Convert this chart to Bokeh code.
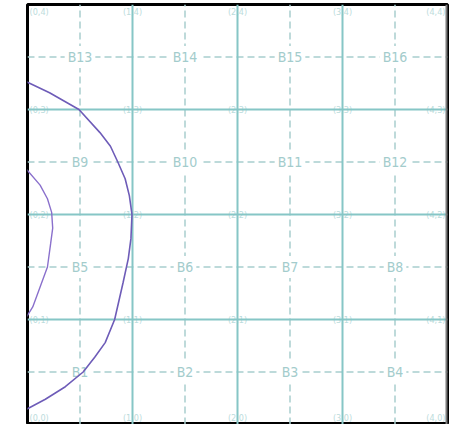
from bokeh.plotting import figure
from bokeh.models import Range1d, Span
from bokeh.core.properties import value
from bokeh.embed import file_html
from bokeh.resources import INLINE

# grid data
solid_pos = [1, 2, 3]
dashed_pos = [0.5, 1.5, 2.5, 3.5]
cell_labels = ["B1", "B2", "B3", "B4", "B5", "B6", "B7", "B8",
               "B9", "B10", "B11", "B12", "B13", "B14", "B15", "B16"]
cell_x = [0.5, 1.5, 2.5, 3.5] * 4
cell_y = [0.5] * 4 + [1.5] * 4 + [2.5] * 4 + [3.5] * 4

node_x = [0, 1, 2, 3, 4] * 5
node_y = [0] * 5 + [1] * 5 + [2] * 5 + [3] * 5 + [4] * 5
node_labels = ["(%d,%d)" % (a, b) for a, b in zip(node_x, node_y)]

# contour lines
outer_x = [-0.02, 0.0, 0.21, 0.49, 0.69, 0.79, 0.86, 0.93, 0.97, 0.995, 0.985, 0.96, 0.91,
           0.83, 0.74, 0.64, 0.53, 0.36, 0.17, 0.0, -0.02]
outer_y = [3.27, 3.26, 3.16, 3.0, 2.78, 2.65, 2.5, 2.34, 2.18, 2.0, 1.77, 1.58, 1.35,
           1.0, 0.78, 0.64, 0.5, 0.36, 0.24, 0.15, 0.14]
inner_x = [-0.02, 0.0, 0.12, 0.19, 0.23, 0.24, 0.22, 0.19, 0.12, 0.05, 0.0, -0.02]
inner_y = [2.44, 2.42, 2.28, 2.15, 2.02, 1.87, 1.72, 1.5, 1.31, 1.12, 1.04, 1.01]

p = figure(width=453, height=424, x_range=Range1d(0, 4), y_range=Range1d(0, 4),
           output_backend="svg", toolbar_location=None,
           x_axis_location=None, y_axis_location=None,
           min_border_left=27, min_border_right=6, min_border_top=4, min_border_bottom=0)
p.grid.visible = False
p.outline_line_color = "black"
p.outline_line_width = 3
p.background_fill_color = "white"

# node labels (kept inside the frame at the edges)
node_align = ["left" if a == 0 else ("right" if a == 4 else "center") for a in node_x]
node_base = ["bottom" if b == 0 else ("top" if b == 4 else "middle") for b in node_y]
p.text(x=node_x, y=node_y, text=node_labels, text_font=value("DejaVu Sans Condensed"),
       text_font_size="9px", text_color="#bcdcdc", text_align=node_align,
       text_baseline=node_base, x_offset=[2 if a == 0 else (-2 if a == 4 else 0) for a in node_x],
       y_offset=[-2 if b == 0 else (2 if b == 4 else 0) for b in node_y])

# dashed center lines
n = len(dashed_pos)
p.segment(x0=dashed_pos, y0=[0] * n, x1=dashed_pos, y1=[4] * n,
          line_color="#a8cece", line_width=1.5, line_dash="7 4")
p.segment(x0=[0] * n, y0=dashed_pos, x1=[4] * n, y1=dashed_pos,
          line_color="#a8cece", line_width=1.5, line_dash="7 4")

# solid boundaries
m = len(solid_pos)
p.segment(x0=solid_pos, y0=[0] * m, x1=solid_pos, y1=[4] * m,
          line_color="#86c6c6", line_width=2)
p.segment(x0=[0] * m, y0=solid_pos, x1=[4] * m, y1=solid_pos,
          line_color="#86c6c6", line_width=2)

# cell labels
p.text(x=cell_x, y=cell_y, text=cell_labels, text_font=value("DejaVu Sans Condensed"),
       text_font_size="14px", text_color="#a3cccc", text_align="center", text_baseline="middle",
       background_fill_color="white", padding=3)

# contours
p.line(outer_x, outer_y, line_color="#6e5cb8", line_width=1.6)
p.line(inner_x, inner_y, line_color="#8a70cc", line_width=1.4)

# grey right edge
p.add_layout(Span(location=4, dimension="height", line_color="#7a7a7a", line_width=4))

open("out.html", "w").write(file_html(p, INLINE))
